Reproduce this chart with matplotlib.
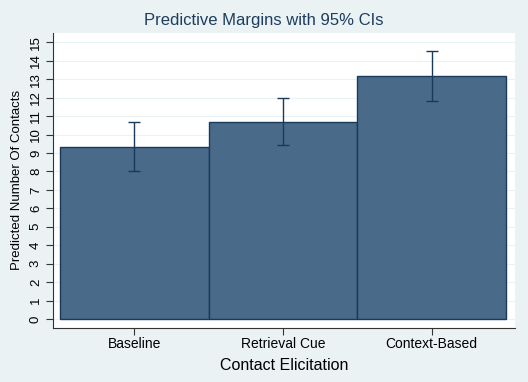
import numpy as np
import matplotlib
matplotlib.use("Agg")
import matplotlib.pyplot as plt

plt.rcParams["font.family"] = ["Liberation Sans", "DejaVu Sans"]

categories = ["Baseline", "Retrieval Cue", "Context-Based"]
margins = [9.32, 10.68, 13.15]
ci_low = [8.00, 9.43, 11.82]
ci_high = [10.66, 11.96, 14.50]

bg = "#eaf2f3"
bar_fill = "#4a6a8a"
dark = "#1a3a5c"

fig = plt.figure(figsize=(5.28, 3.82), dpi=100, facecolor=bg)
ax = fig.add_axes([0.1004, 0.142, 0.8746, 0.7716])
ax.set_facecolor("white")

x = np.arange(1, len(categories) + 1)
m = np.array(margins)
err = [m - np.array(ci_low), np.array(ci_high) - m]

ax.bar(x, m, width=1.0, color=bar_fill, edgecolor=dark, linewidth=1.0, zorder=2)
ax.errorbar(x, m, yerr=err, fmt="none", ecolor=dark, elinewidth=1.0,
            capsize=4, capthick=1.0, zorder=3)

ax.set_xlim(0.453, 3.56)
ax.set_ylim(-0.47, 15.5)
ax.set_yticks(range(0, 16))
ax.set_xticks(x)
ax.set_xticklabels(categories, fontsize=10)
for lab in ax.get_yticklabels():
    lab.set_rotation(90)
    lab.set_va("center")
ax.tick_params(axis="y", labelsize=9.5, length=5, width=0.8, color="#333333", pad=3)
ax.tick_params(axis="x", length=5, width=0.8, color="#333333", pad=2)
ax.yaxis.grid(True, color=bg, linewidth=0.8, zorder=0)
ax.set_axisbelow(True)

for s in ["top", "right"]:
    ax.spines[s].set_visible(False)
for s in ["left", "bottom"]:
    ax.spines[s].set_color("#333333")
    ax.spines[s].set_linewidth(0.8)

ax.set_xlabel("Contact Elicitation", fontsize=11.5, labelpad=5)
ax.set_ylabel("Predicted Number Of Contacts", fontsize=9.5, labelpad=5)
fig.suptitle("Predictive Margins with 95% CIs", fontsize=12, color="#1e3d60", y=0.965)

fig.savefig("out.png", dpi=100, facecolor=bg)
